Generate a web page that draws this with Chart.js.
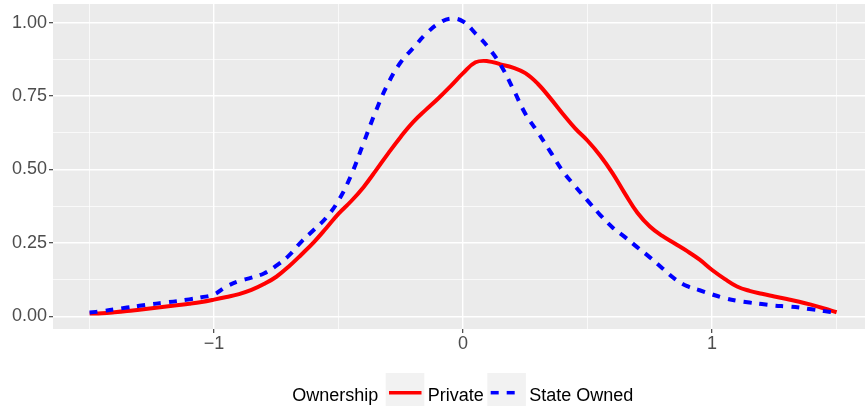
<!DOCTYPE html>
<html>
<head>
<meta charset="utf-8">
<script src="https://cdn.jsdelivr.net/npm/chart.js@4.4.0/dist/chart.umd.min.js"></script>
<style>
  html, body { margin: 0; padding: 0; background: #ffffff; }
  #wrap { width: 865px; height: 406px; }
</style>
</head>
<body>
<div id="wrap"><canvas id="chart" width="865" height="406"></canvas></div>
<script>
// density estimates, x grid -1.5 .. 1.5 step 0.05
var xGrid = [
  -1.50, -1.45, -1.40, -1.35, -1.30, -1.25, -1.20, -1.15, -1.10, -1.05,
  -1.00, -0.95, -0.90, -0.85, -0.80, -0.75, -0.70, -0.65, -0.60, -0.55,
  -0.50, -0.45, -0.40, -0.35, -0.30, -0.25, -0.20, -0.15, -0.10, -0.05,
  0.00, 0.05, 0.10, 0.15, 0.20, 0.25, 0.30, 0.35, 0.40, 0.45,
  0.50, 0.55, 0.60, 0.65, 0.70, 0.75, 0.80, 0.85, 0.90, 0.95,
  1.00, 1.05, 1.10, 1.15, 1.20, 1.25, 1.30, 1.35, 1.40, 1.45, 1.50
];
var privateDensity = [
  0.010, 0.011, 0.014, 0.018, 0.023, 0.028, 0.033, 0.038, 0.043, 0.049,
  0.057, 0.066, 0.076, 0.090, 0.110, 0.135, 0.170, 0.210, 0.252, 0.300,
  0.350, 0.392, 0.440, 0.497, 0.556, 0.612, 0.662, 0.703, 0.742, 0.784,
  0.828, 0.865, 0.869, 0.858, 0.847, 0.828, 0.792, 0.743, 0.690, 0.640,
  0.598, 0.548, 0.488, 0.418, 0.353, 0.306, 0.274, 0.248, 0.222, 0.193,
  0.158, 0.128, 0.102, 0.087, 0.077, 0.068, 0.059, 0.050, 0.039, 0.027, 0.014
];
var stateDensity = [
  0.013, 0.018, 0.024, 0.030, 0.036, 0.042, 0.047, 0.052, 0.058, 0.065,
  0.075, 0.102, 0.120, 0.132, 0.146, 0.173, 0.207, 0.254, 0.294, 0.336,
  0.395, 0.480, 0.590, 0.700, 0.795, 0.866, 0.914, 0.961, 0.996, 1.014,
  1.004, 0.963, 0.917, 0.857, 0.776, 0.690, 0.627, 0.561, 0.495, 0.443,
  0.394, 0.346, 0.303, 0.270, 0.235, 0.201, 0.164, 0.128, 0.103, 0.089,
  0.075, 0.062, 0.053, 0.047, 0.042, 0.037, 0.034, 0.030, 0.024, 0.018, 0.012
];
var seriesNames = ["Private", "State Owned"];
var legendTitle = "Ownership";

var FONT = "'Liberation Sans', Arial, sans-serif";

function toPoints(ys) {
  return xGrid.map(function(x, i) { return { x: x, y: ys[i] }; });
}

function isMajor(v, step) {
  var k = v / step;
  return Math.abs(k - Math.round(k)) < 1e-6;
}

// grey panel behind the grid
var panelBg = {
  id: "panelBg",
  beforeDraw: function(chart) {
    var a = chart.chartArea, c = chart.ctx;
    c.save();
    c.fillStyle = "#EBEBEB";
    c.fillRect(a.left, a.top, a.right - a.left, a.bottom - a.top);
    c.restore();
  }
};

// ggplot style legend: title then keys in a row
var ggLegend = {
  id: "ggLegend",
  afterDraw: function(chart) {
    var c = chart.ctx;
    var base = 400.5, lineY = 392.7;
    c.save();
    c.font = "18px " + FONT;
    c.fillStyle = "#000000";
    c.textBaseline = "alphabetic";
    c.textAlign = "left";
    c.fillText(legendTitle, 292.3, base);

    c.fillStyle = "#F2F2F2";
    c.fillRect(385.7, 373, 38.6, 40);
    c.fillRect(487.3, 373, 38.6, 40);

    c.lineCap = "butt";
    c.lineWidth = 3.5;
    c.strokeStyle = "#FF0000";
    c.beginPath();
    c.moveTo(389, lineY);
    c.lineTo(421.5, lineY);
    c.stroke();

    c.strokeStyle = "#0000FF";
    c.setLineDash([8, 8]);
    c.beginPath();
    c.moveTo(490.7, lineY);
    c.lineTo(522, lineY);
    c.stroke();
    c.setLineDash([]);

    c.fillStyle = "#000000";
    c.fillText(seriesNames[0], 427.7, base);
    c.fillText(seriesNames[1], 529.3, base);
    c.restore();
  }
};

var ctx = document.getElementById("chart");
var myChart = new Chart(ctx, {
  type: "line",
  data: {
    datasets: [
      {
        label: seriesNames[0],
        data: toPoints(privateDensity),
        borderColor: "#FF0000",
        borderWidth: 4,
        pointRadius: 0,
        tension: 0.4,
        borderCapStyle: "butt",
        order: 1
      },
      {
        label: seriesNames[1],
        data: toPoints(stateDensity),
        borderColor: "#0000FF",
        borderWidth: 4,
        borderDash: [8, 8],
        pointRadius: 0,
        tension: 0.4,
        borderCapStyle: "butt",
        order: 0
      }
    ]
  },
  options: {
    responsive: false,
    animation: false,
    devicePixelRatio: 1,
    layout: { padding: { top: 4, right: 0, bottom: 0, left: 0 } },
    plugins: {
      legend: { display: false },
      tooltip: { enabled: false }
    },
    scales: {
      x: {
        type: "linear",
        min: -1.647,
        max: 1.614,
        afterFit: function(scale) {
          scale.height = 77;
          scale.paddingLeft = 0;
          scale.paddingRight = 0;
        },
        border: { display: false },
        grid: {
          color: "#FFFFFF",
          lineWidth: function(c) { return isMajor(c.tick.value, 1) ? 1.4 : 0.7; },
          tickColor: function(c) { return isMajor(c.tick.value, 1) ? "#333333" : "rgba(0,0,0,0)"; },
          tickLength: 4,
          tickWidth: 1.1
        },
        ticks: {
          stepSize: 0.5,
          includeBounds: false,
          autoSkip: false,
          maxRotation: 0,
          padding: 0,
          color: "#4D4D4D",
          font: { family: FONT, size: 18 },
          callback: function(v) {
            if (!isMajor(v, 1)) return "";
            var n = Math.round(v);
            return n < 0 ? "\u2212" + Math.abs(n) : String(n);
          }
        }
      },
      y: {
        type: "linear",
        min: -0.0429,
        max: 1.0635,
        afterFit: function(scale) {
          scale.width = 53;
          scale.paddingTop = 0;
          scale.paddingBottom = 0;
        },
        border: { display: false },
        grid: {
          color: "#FFFFFF",
          lineWidth: function(c) { return isMajor(c.tick.value, 0.25) ? 1.4 : 0.7; },
          tickColor: function(c) { return isMajor(c.tick.value, 0.25) ? "#333333" : "rgba(0,0,0,0)"; },
          tickLength: 4,
          tickWidth: 1.1
        },
        ticks: {
          stepSize: 0.125,
          includeBounds: false,
          autoSkip: false,
          padding: 2,
          color: "#4D4D4D",
          font: { family: FONT, size: 18 },
          callback: function(v) {
            return isMajor(v, 0.25) ? v.toFixed(2) : "";
          }
        }
      }
    }
  },
  plugins: [panelBg, ggLegend]
});
</script>
</body>
</html>
